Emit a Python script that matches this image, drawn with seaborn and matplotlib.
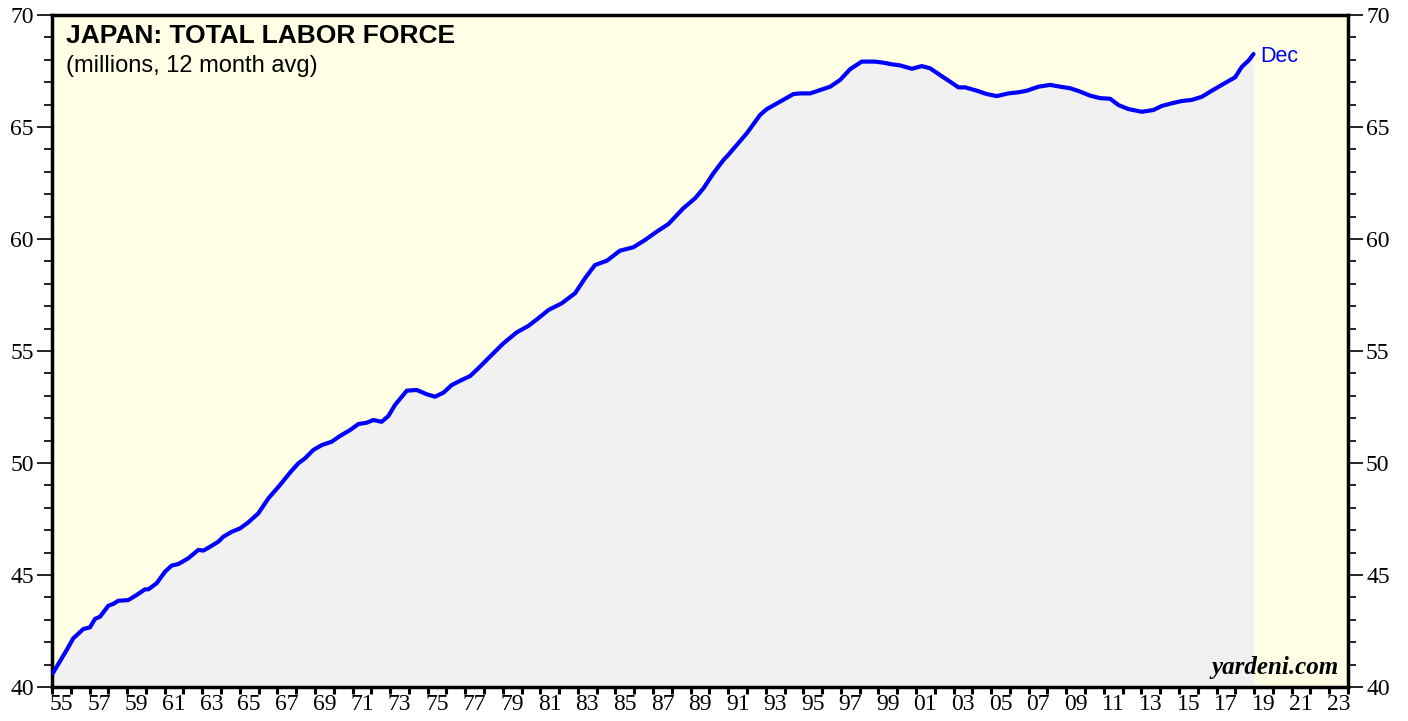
import numpy as np
import pandas as pd
import seaborn as sns
import matplotlib.pyplot as plt
from matplotlib.ticker import MultipleLocator, FixedLocator

# values (decimal year, millions)
years = [1955.04, 1955.78, 1956.13, 1956.67, 1957.02, 1957.29, 1957.56, 1958.0, 1958.26, 1958.53,
         1959.06, 1959.51, 1959.95, 1960.13, 1960.57, 1961.02, 1961.37, 1961.73, 1962.26, 1962.79,
         1963.06, 1963.41, 1963.86, 1964.12, 1964.57, 1965.01, 1965.45, 1965.98, 1966.52, 1967.14,
         1967.67, 1968.12, 1968.47, 1968.91, 1969.36, 1969.89, 1970.34, 1970.87, 1971.31, 1971.76,
         1972.11, 1972.55, 1972.91, 1973.26, 1973.89, 1974.42, 1974.95, 1975.39, 1975.84, 1976.28,
         1976.82, 1977.26, 1977.70, 1978.32, 1979.03, 1979.74, 1980.36, 1980.89, 1981.43, 1982.14,
         1982.85, 1983.38, 1983.91, 1984.54, 1985.24, 1985.95, 1986.58, 1987.20, 1987.82, 1988.61,
         1989.24, 1989.68, 1990.21, 1990.75, 1991.0, 1992.0, 1992.70, 1993.06, 1993.76, 1994.47,
         1994.83, 1995.36, 1995.90, 1996.43, 1996.96, 1997.49, 1998.11, 1998.82, 1999.27, 1999.71,
         2000.15, 2000.78, 2001.31, 2001.75, 2002.28, 2002.82, 2003.26, 2003.62, 2004.24, 2004.77,
         2005.30, 2005.92, 2006.45, 2006.90, 2007.52, 2008.14, 2008.68, 2009.21, 2009.74, 2010.27,
         2010.80, 2011.34, 2011.78, 2012.31, 2013.02, 2013.64, 2014.09, 2014.62, 2015.15, 2015.69,
         2016.22, 2016.75, 2017.28, 2017.99, 2018.35, 2018.70, 2018.97]
labor = [40.61, 41.65, 42.17, 42.59, 42.66, 43.04, 43.14, 43.63, 43.71, 43.85,
         43.88, 44.11, 44.36, 44.36, 44.63, 45.15, 45.42, 45.49, 45.75, 46.12,
         46.09, 46.26, 46.49, 46.71, 46.93, 47.08, 47.35, 47.75, 48.42, 49.02,
         49.57, 49.99, 50.21, 50.58, 50.80, 50.95, 51.21, 51.47, 51.74, 51.80,
         51.92, 51.84, 52.10, 52.59, 53.23, 53.26, 53.07, 52.96, 53.14, 53.48,
         53.71, 53.88, 54.23, 54.75, 55.34, 55.83, 56.12, 56.46, 56.83, 57.13,
         57.58, 58.25, 58.84, 59.03, 59.48, 59.63, 59.96, 60.33, 60.67, 61.37,
         61.82, 62.26, 62.93, 63.53, 63.75, 64.73, 65.54, 65.80, 66.13, 66.47,
         66.50, 66.50, 66.65, 66.80, 67.10, 67.58, 67.92, 67.92, 67.87, 67.80,
         67.75, 67.60, 67.72, 67.62, 67.32, 67.02, 66.77, 66.77, 66.62, 66.47,
         66.38, 66.50, 66.55, 66.62, 66.80, 66.88, 66.80, 66.73, 66.58, 66.40,
         66.29, 66.26, 65.98, 65.80, 65.68, 65.76, 65.94, 66.06, 66.16, 66.21,
         66.35, 66.62, 66.88, 67.22, 67.69, 67.96, 68.26]

year_ticks = list(range(1955, 2025))
label_years = list(range(1955, 2024, 2))
tick_labels = [f"{y % 100:02d}" for y in label_years]
y_ticks = [40, 45, 50, 55, 60, 65, 70]

df = pd.DataFrame({"year": years, "labor": labor})

sns.set_theme(style="ticks")
plt.rcParams['font.family'] = ['Liberation Serif', 'DejaVu Serif']
plt.rcParams['text.color'] = 'black'
plt.rcParams['xtick.color'] = 'black'
plt.rcParams['ytick.color'] = 'black'

fig = plt.figure(figsize=(14.08, 7.21), dpi=100)
ax = fig.add_axes([52 / 1408, 1 - 687 / 721, 1296 / 1408, 672 / 721])
ax.set_facecolor('#FFFFE6')

ax.fill_between(df["year"], 40, df["labor"], color='#F1F1F1', lw=0, zorder=1)
sns.lineplot(data=df, x="year", y="labor", color='#0000FF', lw=3, ax=ax, zorder=3)

ax.set_xlim(1955, 2024)
ax.set_ylim(40, 70)
ax.set_xlabel('')
ax.set_ylabel('')

# x: tick at every year boundary, labels centred mid-year
ax.xaxis.set_major_locator(FixedLocator(year_ticks))
ax.xaxis.set_minor_locator(FixedLocator([y + 0.5 for y in label_years]))
ax.xaxis.set_major_formatter(plt.NullFormatter())
ax.set_xticklabels(tick_labels, minor=True)
ax.tick_params(axis='x', which='major', direction='out', length=5, width=2.2, color='black')
ax.tick_params(axis='x', which='minor', length=0, pad=5, labelsize=17, labelcolor='black')

# y: labels on both sides
ax.set_yticks(y_ticks)
ax.yaxis.set_minor_locator(MultipleLocator(1))
ax.tick_params(axis='y', which='major', direction='out', length=11, width=1.2,
               left=True, right=True, labelleft=True, labelright=True, labelsize=17, pad=2)
ax.tick_params(axis='y', which='minor', direction='out', length=5.5, width=1.2,
               left=True, right=True)

for s in ax.spines.values():
    s.set_linewidth(2.5)
    s.set_color('black')
    s.set_visible(True)

ax.text(0.011, 0.986, 'JAPAN: TOTAL LABOR FORCE', transform=ax.transAxes, ha='left', va='top',
        fontsize=19, fontweight='bold', family=['Liberation Sans', 'DejaVu Sans'])
ax.text(0.011, 0.940, '(millions, 12 month avg)', transform=ax.transAxes, ha='left', va='top',
        fontsize=17, family=['Liberation Sans', 'DejaVu Sans'])
ax.text(df["year"].iloc[-1] + 0.35, df["labor"].iloc[-1] - 0.1, 'Dec', color='#0000FF',
        ha='left', va='center', fontsize=15.5, family=['Liberation Sans', 'DejaVu Sans'])
ax.text(0.993, 0.012, 'yardeni.com', transform=ax.transAxes, ha='right', va='bottom',
        fontsize=18, fontweight='bold', style='italic')

fig.savefig('out.png', dpi=100)
